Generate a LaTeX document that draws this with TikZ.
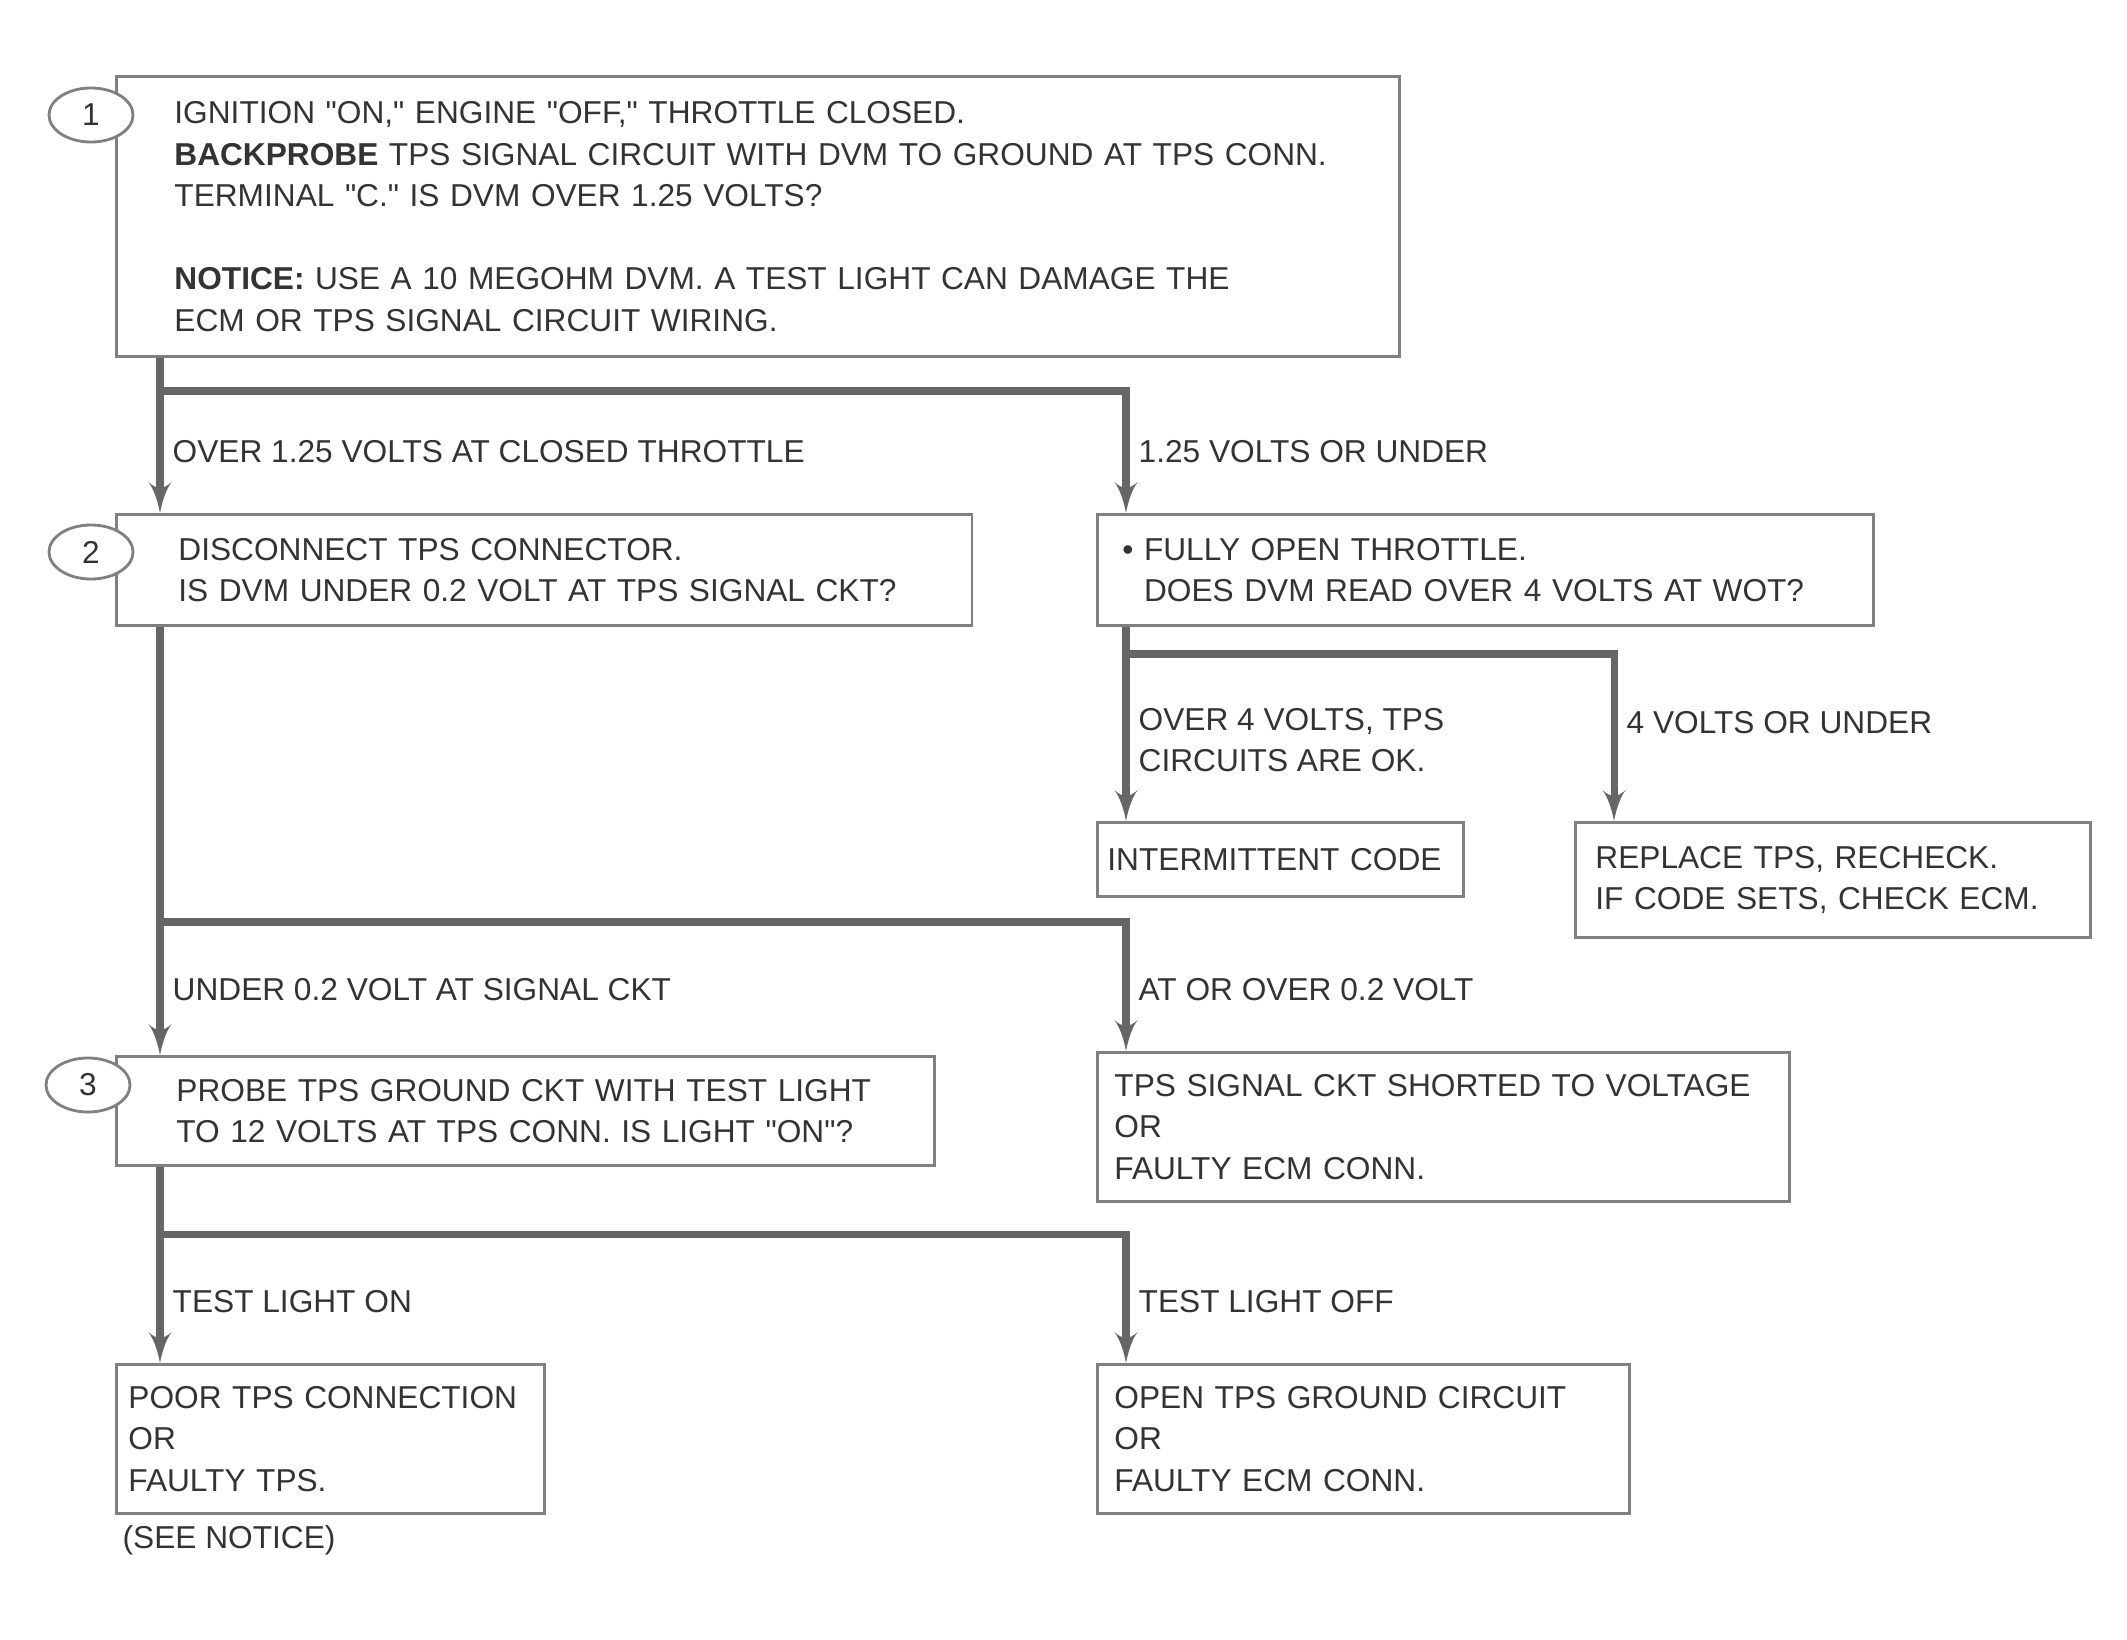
\documentclass[tikz,border=0pt]{standalone}
\usepackage{fontspec}
\setmainfont{Liberation Sans}
\usetikzlibrary{arrows,shapes.geometric}
\tikzset{chartbox/.style = {draw=black!50, line width=0.8pt, anchor=north west, align=left, inner ysep=0pt}}
\tikzset{branch/.style = {anchor=west, align=left, inner sep=0pt}}
\tikzset{stepnum/.style = {shape=ellipse, draw=black!50, line width=0.8pt, fill=white, minimum width=0.84cm, minimum height=0.54cm, inner sep=0pt}}
\tikzset{flow/.style = {draw=black!60, line width=2pt}}
\tikzset{edge/.style = {flow, ->, > = latex'}}
\newcommand{\quoted}[1]{\textquotedbl#1\textquotedbl}

\begin{document}
\begin{tikzpicture}[x=0.01cm, y=-0.01cm, font=\fontsize{9}{11.8}\selectfont, text=black!80]
  \useasboundingbox (0,0) rectangle (2127,1639);

  % left column
  \node[chartbox, text width=11.66cm, inner xsep=0.58cm, minimum height=2.8cm] (top) at (115,75)
    {IGNITION \quoted{ON,} ENGINE \quoted{OFF,} THROTTLE CLOSED.\\
     \textbf{BACKPROBE} TPS SIGNAL CIRCUIT WITH DVM TO GROUND AT TPS CONN.\\
     TERMINAL \quoted{C.} IS DVM OVER 1.25 VOLTS?\\[11.8pt]
     \textbf{NOTICE:} USE A 10 MEGOHM DVM. A TEST LIGHT CAN DAMAGE THE\\
     ECM OR TPS SIGNAL CIRCUIT WIRING.};
  \node[chartbox, text width=7.31cm, inner xsep=0.62cm, minimum height=1.11cm] (s2) at (115,513)
    {DISCONNECT TPS CONNECTOR.\\IS DVM UNDER 0.2 VOLT AT TPS SIGNAL CKT?};
  \node[chartbox, text width=6.98cm, inner xsep=0.6cm, minimum height=1.09cm] (s3) at (115,1055)
    {PROBE TPS GROUND CKT WITH TEST LIGHT\\TO 12 VOLTS AT TPS CONN. IS LIGHT \quoted{ON}?};
  \node[chartbox, text width=4.04cm, inner xsep=0.12cm, minimum height=1.49cm] (lh) at (115,1363)
    {POOR TPS CONNECTION\\OR\\FAULTY TPS.};
  \node[branch] (lnote) at (122,1540) {(SEE NOTICE)};

  % right column
  \node[chartbox, text width=7.26cm, inner xsep=0.25cm, minimum height=1.11cm] (r1) at (1096,513)
    {\textbullet\ FULLY OPEN THROTTLE.\\\phantom{\textbullet\ }DOES DVM READ OVER 4 VOLTS AT WOT?};
  \node[chartbox, text width=3.46cm, inner xsep=0.1cm, minimum height=0.74cm] (rda) at (1096,821)
    {INTERMITTENT CODE};
  \node[chartbox, text width=4.75cm, inner xsep=0.2cm, minimum height=1.15cm] (rdb) at (1574,821)
    {REPLACE TPS, RECHECK.\\IF CODE SETS, CHECK ECM.};
  \node[chartbox, text width=6.58cm, inner xsep=0.17cm, minimum height=1.49cm] (rf) at (1096,1051)
    {TPS SIGNAL CKT SHORTED TO VOLTAGE\\OR\\FAULTY ECM CONN.};
  \node[chartbox, text width=4.98cm, inner xsep=0.17cm, minimum height=1.49cm] (rh) at (1096,1363)
    {OPEN TPS GROUND CIRCUIT\\OR\\FAULTY ECM CONN.};

  % branch labels
  \node[branch] (la) at (172,452) {OVER 1.25 VOLTS AT CLOSED THROTTLE};
  \node[branch] (ra) at (1138,452) {1.25 VOLTS OR UNDER};
  \node[branch] (rca) at (1138,740) {OVER 4 VOLTS, TPS\\CIRCUITS ARE OK.};
  \node[branch] (rcb) at (1626,723) {4 VOLTS OR UNDER};
  \node[branch] (le) at (172,990) {UNDER 0.2 VOLT AT SIGNAL CKT};
  \node[branch] (re) at (1138,990) {AT OR OVER 0.2 VOLT};
  \node[branch] (lg) at (172,1302) {TEST LIGHT ON};
  \node[branch] (rg) at (1138,1302) {TEST LIGHT OFF};

  % junctions
  \coordinate (j1) at (160,391);
  \coordinate (j1r) at (1126,391);
  \coordinate (j2) at (1126,654);
  \coordinate (j2r) at (1614,654);
  \coordinate (j3) at (160,922);
  \coordinate (j3r) at (1126,922);
  \coordinate (j4) at (160,1234);
  \coordinate (j4r) at (1126,1234);

  \draw[edge] (top.south -| j1) -- (s2.north -| j1);
  \draw[edge] (j1) -- (j1r) -- (r1.north -| j1r);
  \draw[edge] (r1.south -| j2) -- (rda.north -| j2);
  \draw[edge] (j2) -- (j2r) -- (rdb.north -| j2r);
  \draw[edge] (s2.south -| j3) -- (s3.north -| j3);
  \draw[edge] (j3) -- (j3r) -- (rf.north -| j3r);
  \draw[edge] (s3.south -| j4) -- (lh.north -| j4);
  \draw[edge] (j4) -- (j4r) -- (rh.north -| j4r);

  % step numbers
  \node[stepnum] (n1) at (91,115) {1};
  \node[stepnum] (n2) at (91,552) {2};
  \node[stepnum] (n3) at (88,1085) {3};
\end{tikzpicture}
\end{document}
